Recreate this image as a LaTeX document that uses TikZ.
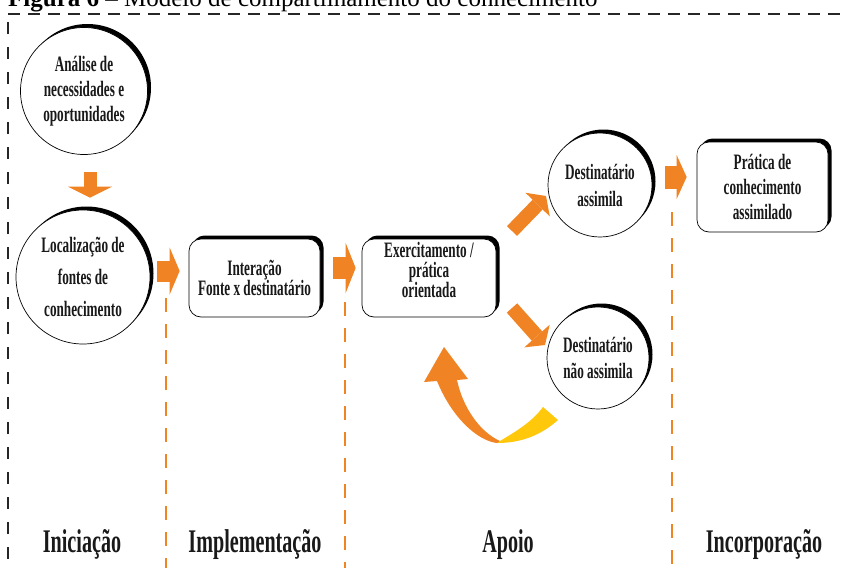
\documentclass[tikz,border=0pt]{standalone}
\usepackage{fontspec}
\setmainfont{Liberation Serif}
\newfontfamily\cond[FakeStretch=0.6]{Liberation Serif}
\newfontfamily\condL[FakeStretch=0.61]{Liberation Serif}
\usetikzlibrary{arrows.meta,shadows}
\definecolor{aorange}{RGB}{240,132,36}
\definecolor{ayellow}{RGB}{255,200,10}
\begin{document}
\begin{tikzpicture}[x=1pt,y=-1pt,
  txt/.style={font=\cond\bfseries\fontsize{22}{#1}\selectfont, align=center, text=black!90},
  circ/.style={circle, draw=black, line width=0.7pt, fill=white, inner sep=0pt, minimum size=#1,
    drop shadow={shadow xshift=3.5pt, shadow yshift=3.5pt, opacity=1, fill=black}},
  rbox/.style 2 args={rectangle, rounded corners=12pt, draw=black, line width=0.7pt, fill=white, inner sep=0pt,
    minimum width=#1, minimum height=#2,
    drop shadow={shadow xshift=3.5pt, shadow yshift=3.5pt, opacity=1, fill=black}},
  barrow/.style args={#1/#2/#3}{draw=aorange, line width=#1, -{Triangle[width=#2,length=#3,line width=0pt]}},
  odash/.style={draw=aorange, line width=2.4pt, dash pattern=on 14pt off 12pt},
  kdash/.style={draw=black!85, line width=2.6pt},
  phase/.style={font=\condL\bfseries\fontsize{33}{38}\selectfont, anchor=base, text=black!90}
]
\useasboundingbox (0,0) rectangle (848,568);
\clip (0,0) rectangle (848,568);
\fill[white] (0,0) rectangle (848,568);

% title (partly cut off)
\node[anchor=base west, inner sep=0pt, font=\fontsize{25}{30}\selectfont] (title) at (8,6)
  {\textbf{Figura 6} – Modelo de compartilhamento do conhecimento};

% frame dashes
\draw[kdash, dash pattern=on 12pt off 8pt] (8,14) -- (848,14);
\draw[kdash, line width=2.2pt, dash pattern=on 12pt off 13pt] (8,22) -- (8,568);

% nodes
\node[circ=127pt] (cA) at (84,91) {};
\node[txt=25pt] at (cA) {Análise de\\necessidades e\\oportunidades};
\node[circ=134pt] (cB) at (83,277) {};
\node[txt=32pt] at (cB) {Localização de\\fontes de\\conhecimento};
\node[rbox={131pt}{78pt}] (b1) at (254.5,278) {};
\node[txt=20pt] at (b1) {Interação\\Fonte x destinatário};
\node[rbox={134pt}{78pt}] (b2) at (429,278) {};
\node[txt=20pt] at ([yshift=8pt]b2.center) {Exercitamento /\\prática\\orientada};
\node[circ=104pt] (cC) at (600,185) {};
\node[txt=27pt] at (cC) {Destinatário\\assimila};
\node[rbox={131pt}{90pt}] (b3) at (762.5,187) {};
\node[txt=25pt] at (b3) {Prática de\\conhecimento\\assimilado};
\node[circ=102pt] (cD) at (598,358) {};
\node[txt=26pt] at (cD) {Destinatário\\não assimila};

% orange dashed separators
\draw[odash] (166,298) -- (166,568);
\draw[odash] (345,302) -- (345,568);
\draw[odash] (672,212) -- (672,568);

% block arrows
\draw[barrow=13pt/44pt/11pt, shorten <=17pt, shorten >=12pt] ([xshift=6pt]cA.south) -- ([xshift=6pt]cA.south |- cB.north);
\draw[barrow=21pt/47pt/10pt, shorten <=7pt, shorten >=9pt] ([yshift=6pt]cB.east) -- ([yshift=6pt]cB.east -| b1.west);
\draw[barrow=22pt/50pt/10pt, shorten <=13pt, shorten >=6pt] ([yshift=10pt]b1.east) -- ([yshift=10pt]b2.west);
\draw[barrow=23pt/44pt/10pt, shorten <=13pt, shorten >=10pt] ([yshift=8pt]cC.east) -- ([yshift=8pt]cC.east -| b3.west);
\coordinate (u1) at (512,231);
\coordinate (u2) at (546,196);
\coordinate (d1) at (512,308);
\coordinate (d2) at (545,345);
\draw[barrow=14pt/34pt/12pt] (u1) -- (u2);
\draw[barrow=14pt/34pt/12pt] (d1) -- (d2);

% curved return arrow
\fill[ayellow] (500,441) .. controls (515,432) and (532,422) .. (543,407) -- (558,420)
  .. controls (540,436) and (520,443) .. (497,443) -- cycle;
\fill[aorange] (497,443) .. controls (478,441) and (452,418) .. (437,381) -- (424,382) -- (444,347)
  -- (468,379) -- (457,380) .. controls (463,408) and (480,432) .. (500,441) -- cycle;

% phase labels
\node[phase] (p1) at (82,552) {Iniciação};
\node[phase] (p2) at (255,552) {Implementação};
\node[phase] (p3) at (508,552) {Apoio};
\node[phase] (p4) at (764,552) {Incorporação};
\end{tikzpicture}
\end{document}
